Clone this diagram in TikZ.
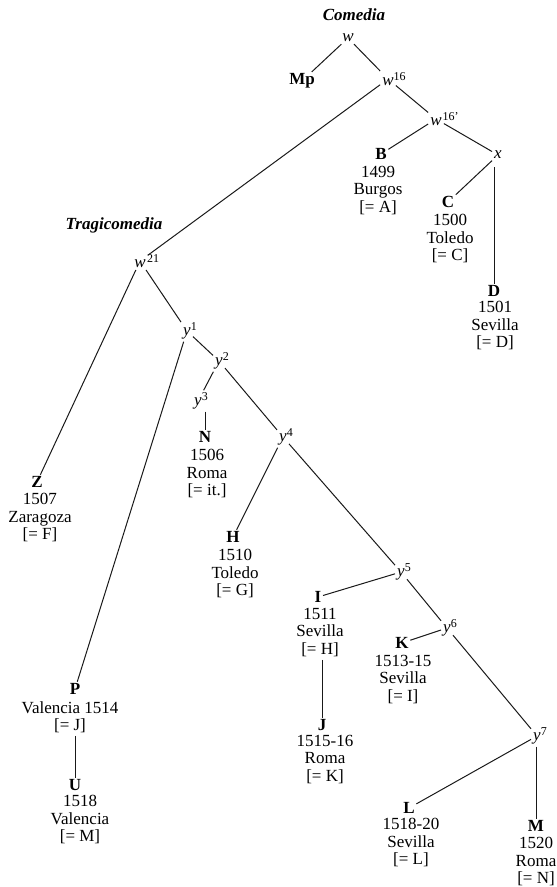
\documentclass[tikz,border=0pt]{standalone}
\usepackage{fontspec}
\setmainfont{Liberation Serif}
\newcommand\bsize{\fontsize{17}{17.5}\selectfont}
\newcommand\sups[1]{\rlap{\raisebox{0.32em}{\upshape\fontsize{12}{12}\selectfont #1}}}
\tikzset{
 lbl/.style={font=\bsize\bfseries, inner sep=1.5pt},
 info/.style={font=\bsize, align=center, inner sep=0pt, anchor=north},
 var/.style={font=\bsize\itshape, inner sep=2pt},
 ttl/.style={font=\bsize\bfseries\itshape, inner sep=0pt},
 link/.style={draw=black!90, line width=1pt}
}
\begin{document}
\begin{tikzpicture}[x=1pt,y=-1pt]
\useasboundingbox (0,0) rectangle (557,887);
% Comedia
\node[ttl] (com) at (354,15) {Comedia};
\node[var] (w) at (348,38) {w};
\node[lbl] (Mp) at (302,81) {Mp};
\node[var] (w16) at (388,79) {w\sups{16}};
\node[var] (w16p) at (436,119) {w\sups{\kern1pt 16'}};
\node[var] (x) at (498,155) {x};
\node[lbl] (B) at (381,154) {B};
\node[info] (Bi) at (378,166) {1499\\Burgos\\{[}= A]};
\node[lbl] (C) at (448,202) {C};
\node[info] (Ci) at (450,214) {1500\\Toledo\\{[}= C]};
\node[lbl] (D) at (494,291) {D};
\node[info] (Di) at (495,301) {1501\\Sevilla\\{[}= D]};
% Tragicomedia
\node[ttl] (tra) at (114,225) {Tragicomedia};
\node[var] (w21) at (140,261) {w\sups{\kern1.5pt 21}};
\node[lbl] (Z) at (37,482) {Z};
\node[info] (Zi) at (40,493) {1507\\Zaragoza\\{[}= F]};
\node[var] (y1) at (187,331) {y\sups{1}};
\node[var] (y2) at (219,361) {y\sups{2}};
\node[var] (y3) at (198,401) {y\sups{3}};
\node[lbl] (N) at (205,437) {N};
\node[info] (Ni) at (207,449) {1506\\Roma\\{[}= it.]};
\node[var] (y4) at (283,437) {y\sups{4}};
\node[lbl] (H) at (233,537) {H};
\node[info] (Hi) at (235,549) {1510\\Toledo\\{[}= G]};
\node[var] (y5) at (401,572) {y\sups{5}};
\node[lbl] (I) at (318,597) {I};
\node[info] (Ii) at (320,608) {1511\\Sevilla\\{[}= H]};
\node[var] (y6) at (447,628) {y\sups{6}};
\node[lbl] (K) at (402,643) {K};
\node[info] (Ki) at (403,655) {1513-15\\Sevilla\\{[}= I]};
\node[lbl] (J) at (322,725) {J};
\node[info] (Ji) at (325,735) {1515-16\\Roma\\{[}= K]};
\node[var] (y7) at (537,736) {y\sups{7}};
\node[lbl] (L) at (409,808) {L};
\node[info] (Li) at (411,818) {1518-20\\Sevilla\\{[}= L]};
\node[lbl] (M) at (536,826) {M};
\node[info] (Mi) at (536,837) {1520\\Roma\\{[}= N]};
\node[lbl] (P) at (75,689) {P};
\node[info] (Pi) at (70,701) {Valencia 1514\\{[}= J]};
\node[lbl] (U) at (75,785) {U};
\node[info] (Ui) at (80,795) {1518\\Valencia\\{[}= M]};
% connectors
\draw[link] (w) -- (Mp);
\draw[link] (w) -- (w16);
\draw[link] (w16) -- (w21);
\draw[link] (w16) -- (w16p);
\draw[link] (w16p) -- (B);
\draw[link] (w16p) -- (x);
\draw[link] (x) -- (C);
\draw[link, shorten <=6pt] (D |- x.south) -- (D);
\draw[link] (w21) -- (Z);
\draw[link] (w21) -- (y1);
\draw[link] (y1) -- (P);
\draw[link] (y1) -- (y2);
\draw[link] (y2) -- (y3);
\draw[link] (N |- y3.south) -- (N);
\draw[link] (y2) -- (y4);
\draw[link] (y4) -- (H);
\draw[link] (y4) -- (y5);
\draw[link] (y5) -- (I);
\draw[link] (y5) -- (y6);
\draw[link] (y6) -- (K);
\draw[link] (y6) -- (y7);
\draw[link, shorten <=3pt] (J |- Ii.south) -- (J);
\draw[link] (y7) -- (L);
\draw[link] (M |- y7.south) -- (M);
\draw[link, shorten <=3pt] (U |- Pi.south) -- (U);
\end{tikzpicture}
\end{document}
